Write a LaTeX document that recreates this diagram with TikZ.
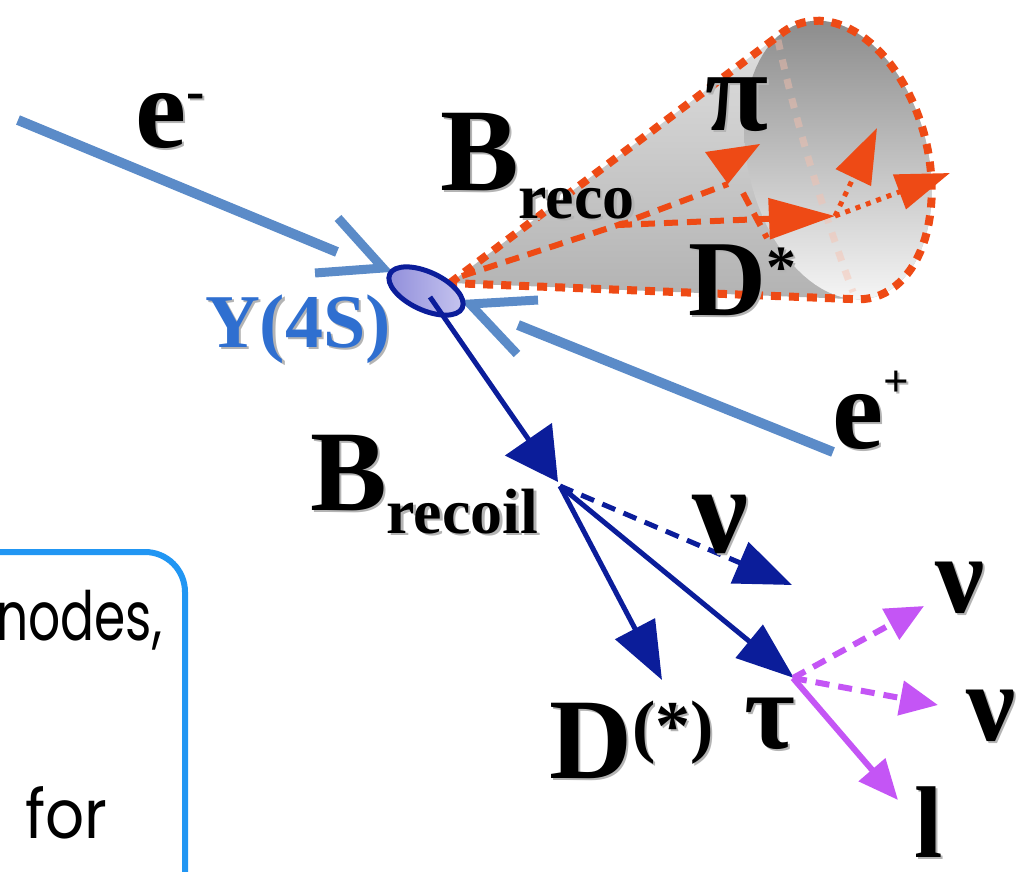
\documentclass[tikz,border=0pt]{standalone}
\usepackage{fontspec}
\setmainfont{Liberation Serif}
\newfontfamily\notefont{Poppins}
\usetikzlibrary{arrows.meta,calc}

\definecolor{beam}{HTML}{5B8BC8}
\definecolor{recoilblue}{HTML}{0B1D9A}
\definecolor{taupurple}{HTML}{C455F5}
\definecolor{recored}{HTML}{EE4A15}
\definecolor{upsblue}{HTML}{2F6FD0}
\definecolor{upsfillA}{HTML}{8F8CDA}
\definecolor{upsfillB}{HTML}{C8C7F0}
\definecolor{framblue}{HTML}{2196F3}
\definecolor{shadowgray}{HTML}{B4B4B4}

\newcommand\fs[1]{\fontsize{#1}{#1}\selectfont}
% label with a soft drop shadow
\newcommand\shlabel[4][]{%
  \node[lbl,#1,text=shadowgray] (#2-sh) at ($(#3)+(2.5,2.5)$) {#4};
  \node[lbl,#1] (#2) at (#3) {#4};}

\begin{document}
\begin{tikzpicture}[x=1pt,y=-1pt,
  declare function={ex(\t)=838+87.2*cos(\t)-34.4*sin(\t);
                    ey(\t)=160-21.8*cos(\t)-137.6*sin(\t);},
  lbl/.style={inner sep=0pt,outer sep=0pt,anchor=base west,font=\bfseries},
  beamline/.style={beam,line width=10pt},
  chevron/.style={beam,line width=9pt,miter limit=10},
  conedot/.style={recored,line width=8pt,dash pattern=on 10pt off 8pt},
  odash/.style={recored,line width=6pt,dash pattern=on 14pt off 9pt},
  odot/.style={recored,line width=5pt,dash pattern=on 5pt off 6pt},
  bline/.style={recoilblue,line width=5pt},
  pline/.style={taupurple,line width=6pt},
  note/.style={inner sep=0pt,anchor=base west,font=\notefont\fs{68}},
]
\clip (0,0) rectangle (1025,871);

% ---------- coordinates ----------
\coordinate (apex) at (450,283);
\coordinate (IP) at (426,291);

% ---------- B_reco cone (base ellipse tilted by 14 degrees) ----------
\shade[top color=black!12,bottom color=black!30]
  (apex) -- plot[domain=0:1,samples=60,variable=\s]
  ({ex(107.6-206.8*\s)},{ey(107.6-206.8*\s)}) -- cycle;
\shade[shading angle=35,top color=black!45,bottom color=black!4]
  plot[domain=0:360,samples=90,variable=\t] ({ex(\t)},{ey(\t)}) -- cycle;
% hidden rim
\draw[recored!35,opacity=.45,line width=7pt,dash pattern=on 10pt off 10pt]
  (778,40) .. controls (796,125) and (826,220) .. (853,292);
% visible outline
\draw[conedot] (apex) -- plot[domain=0:1,samples=60,variable=\s]
  ({ex(107.6-206.8*\s)},{ey(107.6-206.8*\s)}) -- (apex);

% ---------- B_reco decay products ----------
\coordinate (o0) at (462,276);
\coordinate (V1) at (618,225);
\coordinate (P) at (728,184);
\coordinate (Pb) at (743,193);
\coordinate (Pc) at (767,238);
\coordinate (Dtip) at (835,216);
\coordinate (up) at (877,128);
\coordinate (rt) at (950,173);
\draw[odash] (o0) -- (V1) -- (P);
\fill[recored] (705,152) -- (760,144) -- (P) -- cycle;
\draw[odash] (Pb) -- (Pc);
\draw[odash,-{Triangle[length=66pt,width=40pt]}] (V1) -- (Dtip);
\draw[odot,-{Triangle[length=55pt,width=38pt]}] (Dtip) -- (up);
\draw[odot,-{Triangle[length=54pt,width=36pt]}] (Dtip) -- (rt);

% ---------- beams ----------
\coordinate (em0) at (18,120);
\coordinate (em1) at (337,252);
\coordinate (emA) at (338,218);
\coordinate (emT) at (383,268);
\coordinate (emB) at (315,273);
\draw[beamline] (em0) -- (em1);
\draw[chevron] (emA) -- (emT) -- (emB);
\coordinate (ep0) at (833,452);
\coordinate (ep1) at (518,325);
\coordinate (epA) at (538,300);
\coordinate (epT) at (470,304);
\coordinate (epB) at (517,354);
\draw[beamline] (ep0) -- (ep1);
\draw[chevron] (epA) -- (epT) -- (epB);

% ---------- Y(4S) ----------
\draw[recoilblue,line width=5pt,left color=upsfillA,right color=upsfillB,
  rotate around={-25:(IP)}] (IP) ellipse [x radius=40,y radius=19];

% ---------- B_recoil ----------
\coordinate (Bstart) at (430,297);
\coordinate (Btip) at (558,482);
\coordinate (V) at (560,486);
\coordinate (nutip) at (792,585);
\coordinate (Dsttip) at (662,680);
\coordinate (tautip) at (794,678);
\draw[bline,-{Triangle[length=52pt,width=56pt]}] (Bstart) -- (Btip);
\draw[bline,dash pattern=on 14pt off 9pt,-{Triangle[length=57pt,width=44pt]}] (V) -- (nutip);
\draw[bline,-{Triangle[length=58pt,width=44pt]}] (V) -- (Dsttip);
\draw[bline,-{Triangle[length=58pt,width=42pt]}] (V) -- (tautip);

% ---------- tau decay ----------
\coordinate (V2) at (793,678);
\coordinate (nuA) at (924,606);
\coordinate (nuB) at (938,705);
\coordinate (ltip) at (898,800);
\draw[pline,dash pattern=on 14pt off 9pt,-{Triangle[length=38pt,width=34pt]}] (V2) -- (nuA);
\draw[pline,dash pattern=on 14pt off 9pt,-{Triangle[length=38pt,width=34pt]}] (V2) -- (nuB);
\draw[pline,-{Triangle[length=40pt,width=34pt]}] (V2) -- (ltip);

% ---------- labels ----------
\shlabel{em}{135,147}{\fs{115}e\raisebox{38pt}{\fs{55}-}}
\shlabel{ep}{832,448}{\fs{115}e\raisebox{52pt}{\fs{45}+}}
\shlabel{breco}{440,190}{\fs{118}B\raisebox{-28pt}{\fs{64}reco}}
\shlabel{pi}{705,130}{\fs{115}π}
\shlabel{dst}{688,315}{\fs{108}D\raisebox{28pt}{\fs{60}*}}
\shlabel[text=upsblue]{ups}{205,347}{\fs{76}Y(4S)}
\shlabel{brecoil}{310,510}{\fs{115}B\raisebox{-23pt}{\fs{64}recoil}}
\shlabel{nub}{692,552}{\fs{125}ν}
\shlabel{nu1}{935,612}{\fs{110}ν}
\shlabel{nu2}{966,740}{\fs{110}ν}
\shlabel{dstar}{549,778}{\fs{115}D\raisebox{29pt}{\fs{70}(*)}}
\shlabel{tau}{744,748}{\fs{110}τ}
\shlabel{lep}{914,857}{\fs{102}l}

% ---------- note box ----------
\draw[framblue,line width=6pt,rounded corners=40pt] (-60,552) -- (185,552) -- (185,900);
\node[note] (n1) at (-4,640) {\scalebox{0.74}[1]{nodes,}};
\node[note] (n2) at (25,838) {\scalebox{0.9}[1]{for}};
\end{tikzpicture}
\end{document}
